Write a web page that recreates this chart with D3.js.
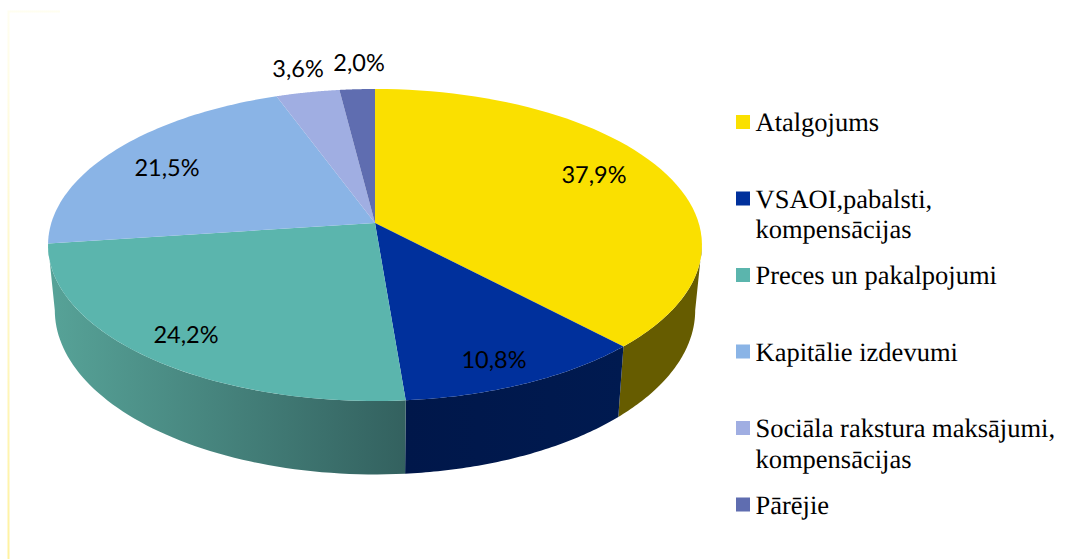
<!DOCTYPE html>
<html><head><meta charset="utf-8">
<script src="https://cdnjs.cloudflare.com/ajax/libs/d3/7.8.5/d3.min.js"></script>
<style>html,body{margin:0;padding:0;background:#fff}svg{display:block;text-rendering:geometricPrecision}</style>
</head><body><svg id="c" width="1088" height="559"></svg>
<script>
// DATA
const categories = ["Atalgojums","VSAOI,pabalsti,|kompensācijas","Preces un pakalpojumi","Kapitālie izdevumi","Sociāla rakstura maksājumi,|kompensācijas","Pārējie"];
const values = [37.9,10.8,24.2,21.5,3.6,2.0];
const colors = ["#fae000","#00309c","#5bb5ad","#8ab4e6","#a0aee2","#5f6db0"];
const sideFrom = ["#665c00","#00174a","#57a398","#8ab4e6","#a0aee2","#5f6db0"];
const sideTo = ["#665c00","#001a50","#33615f","#8ab4e6","#a0aee2","#5f6db0"];

// LAYOUT (hand placement of the labels, relative to the pie centre)
const cx=375, cy=223, k=0.141, topA=323.7, topB=152.9;
const botCy=287, botA=317, botB=161, botK=0.141;
const labelDx=[219,119,-189,-208,-77,-16], labelDy=[-48,137,112,-55,-154,-160];

const svg=d3.select("#c");
const defs=svg.append("defs");
const edge=defs.append("linearGradient").attr("id","edge").attr("gradientUnits","userSpaceOnUse")
  .attr("x1",0).attr("y1",11).attr("x2",0).attr("y2",559);
edge.append("stop").attr("offset",0).attr("stop-color","#fffef0");
edge.append("stop").attr("offset",1).attr("stop-color","#fff2a0");
svg.append("path").attr("d","M8.5 559V11.5H60").attr("fill","none").attr("stroke","url(#edge)").attr("stroke-width",2);

const pie=d3.pie().sort(null).value(d=>d);
const arcs=pie(values);
const project=(t,r,c,a,b,kk)=>{const X=r*Math.sin(t),Y=-r*Math.cos(t),w=1-kk*Y;return [cx+a*X/w,c+b*Y/w];};
const topP=(t,r=1)=>project(t,r,cy,topA,topB,k);
const botP=t=>project(t,1,botCy,botA,botB,botK);
const samples=(s,e)=>d3.range(0,61).map(i=>s+(e-s)*i/60);
const line=d3.line();

const visS=Math.acos(-k), visE=2*Math.PI-Math.acos(-k);
const sides=svg.append("g"), tops=svg.append("g");
arcs.forEach((d,i)=>{
  const s=Math.max(d.startAngle,visS), e=Math.min(d.endAngle,visE);
  if(e>s){
    const ts=samples(s,e);
    const pts=ts.map(t=>topP(t)).concat(ts.slice().reverse().map(t=>botP(t)));
    const xs=pts.map(p=>p[0]);
    const g=defs.append("linearGradient").attr("id","g"+i).attr("gradientUnits","userSpaceOnUse")
      .attr("x1",d3.min(xs)).attr("x2",d3.max(xs)).attr("y1",0).attr("y2",0);
    g.append("stop").attr("offset",0).attr("stop-color",sideFrom[i]);
    g.append("stop").attr("offset",1).attr("stop-color",sideTo[i]);
    sides.append("path").attr("d",line(pts)+"Z").attr("fill",`url(#g${i})`);
  }
  const pts=[[cx,cy]].concat(samples(d.startAngle,d.endAngle).map(t=>topP(t)));
  tops.append("path").attr("d",line(pts)+"Z").attr("fill",colors[i]);
});

const fmt=v=>v.toFixed(1).replace(".",",")+"%";
svg.append("g").selectAll("text").data(values).join("text")
  .attr("x",(d,i)=>cx+labelDx[i]).attr("y",(d,i)=>cy+labelDy[i]+8)
  .attr("text-anchor","middle").attr("font-family","Lato, 'Open Sans', sans-serif").attr("font-size",23.5)
  .attr("fill","#000").text(fmt);

// Legend
const rowY=d3.scalePoint().domain(categories).range([122,504.5]);
const leg=svg.append("g").selectAll("g").data(categories).join("g").attr("transform",d=>`translate(736,${rowY(d)})`);
leg.append("rect").attr("x",0).attr("y",-7).attr("width",14).attr("height",14).attr("fill",(d,i)=>colors[i]);
leg.append("text").attr("font-family","'Liberation Serif', serif").attr("font-size",26.5).attr("fill","#000")
 .each(function(d){
  d.split("|").forEach((t,j)=>d3.select(this).append("tspan").attr("x",19.5).attr("y",9+j*30.5).text(t));
 });
</script></body></html>
